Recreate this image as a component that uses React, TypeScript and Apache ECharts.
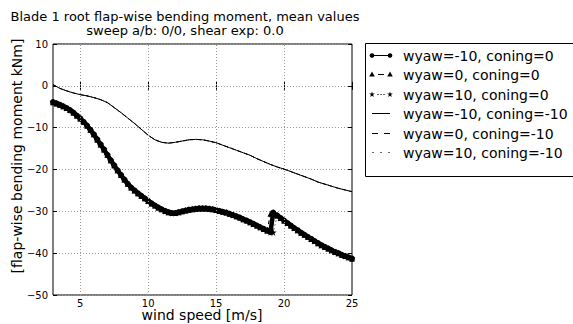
import React, { useEffect, useRef } from "react";
import * as echarts from "echarts";

// wind speed grid for the coning=0 runs [m/s]
const windConing0 = [
  3, 3.25, 3.5, 3.75, 4, 4.25, 4.5, 4.75, 5, 5.25, 5.5, 5.75, 6, 6.25, 6.5, 6.75,
  7, 7.25, 7.5, 7.75, 8, 8.25, 8.5, 8.75, 9, 9.25, 9.5, 9.75, 10, 10.25, 10.5, 10.75,
  11, 11.25, 11.5, 11.75, 12, 12.25, 12.5, 12.75, 13, 13.25, 13.5, 13.75, 14, 14.25, 14.5, 14.75,
  15, 15.25, 15.5, 15.75, 16, 16.25, 16.5, 16.75, 17, 17.25, 17.5, 17.75, 18, 18.25, 18.5, 18.75,
  19, 19.2, 19.5, 19.75, 20, 20.25, 20.5, 20.75, 21, 21.25, 21.5, 21.75, 22, 22.25, 22.5, 22.75,
  23, 23.25, 23.5, 23.75, 24, 24.25, 24.5, 24.75, 25,
];
// flap-wise moment, wyaw=-10, coning=0 [kNm]
const momentWyawM10Coning0 = [
  -3.9, -4.2, -4.5, -4.9, -5.3, -5.8, -6.4, -7.1, -7.8, -8.6, -9.5, -10.5, -11.6, -12.8, -14.0, -15.2,
  -16.5, -17.8, -19.0, -20.2, -21.3, -22.4, -23.4, -24.3, -25.0, -25.7, -26.3, -26.9, -27.5, -28.1, -28.6, -29.1,
  -29.5, -29.9, -30.2, -30.4, -30.4, -30.2, -30.0, -29.8, -29.6, -29.5, -29.4, -29.3, -29.3, -29.3, -29.4, -29.5,
  -29.7, -29.9, -30.1, -30.3, -30.6, -30.9, -31.2, -31.5, -31.9, -32.2, -32.6, -33.0, -33.4, -33.8, -34.2, -34.6,
  -35.0, -30.3, -31.0, -31.6, -32.2, -32.8, -33.4, -34.0, -34.5, -35.1, -35.6, -36.1, -36.6, -37.1, -37.6, -38.1,
  -38.5, -38.9, -39.3, -39.7, -40.0, -40.4, -40.7, -41.0, -41.3,
];
// wyaw=0 and wyaw=10 (coning=0) follow the same curve, except around the jump near 19 m/s
const jumpWyaw0Coning0: Record<number, number> = { 19: -30.6 };
const jumpWyaw10Coning0: Record<number, number> = { 19.2: -35.0 };

// wind speed grid for the coning=-10 runs [m/s]
const windConingM10 = [
  3, 3.5, 4, 4.5, 5, 5.5, 6, 6.5, 7, 7.5, 8, 8.5, 9, 9.5, 10, 10.5, 11, 11.5, 12, 12.5, 13, 13.5,
  14, 14.5, 15, 15.5, 16, 16.5, 17, 17.5, 18, 18.5, 19, 19.5, 20, 20.5, 21, 21.5, 22, 22.5, 23, 23.5,
  24, 24.5, 25,
];
const momentConingM10 = [
  0.3, -0.6, -1.2, -1.7, -2.1, -2.4, -2.8, -3.3, -4.0, -5.2, -6.4, -7.7, -9.0, -10.4, -11.8, -12.9,
  -13.5, -13.7, -13.5, -13.2, -12.9, -12.8, -12.9, -13.2, -13.6, -14.2, -14.8, -15.4, -16.0, -16.6,
  -17.4, -18.1, -18.8, -19.4, -19.9, -20.5, -21.1, -21.7, -22.3, -23.0, -23.5, -24.0, -24.5, -24.9, -25.3,
];

const seriesNames = [
  "wyaw=-10, coning=0",
  "wyaw=0, coning=0",
  "wyaw=10, coning=0",
  "wyaw=-10, coning=-10",
  "wyaw=0, coning=-10",
  "wyaw=10, coning=-10",
];
const titleLines = ["Blade 1 root flap-wise bending moment, mean values", "sweep a/b: 0/0, shear exp: 0.0"];
const xTicks = [5, 10, 15, 20, 25];
const xGridLines = [5, 10, 15, 20];

const FONT = "DejaVu Sans";
const STAR =
  "path://M50,0 L61,35 L98,35 L68,57 L79,91 L50,70 L21,91 L32,57 L2,35 L39,35 Z";

function pairs(xs: number[], ys: number[], over: Record<number, number> = {}) {
  return xs.map((x, i) => [x, over[x] !== undefined ? over[x] : ys[i]]);
}

function starPoints(cx: number, cy: number, r: number) {
  const pts: number[][] = [];
  for (let k = 0; k < 10; k++) {
    const a = -Math.PI / 2 + (k * Math.PI) / 5;
    const rr = k % 2 === 0 ? r : r * 0.4;
    pts.push([cx + rr * Math.cos(a), cy + rr * Math.sin(a)]);
  }
  return pts;
}

function seg(xa: number, xb: number, y: number) {
  return {
    type: "line",
    shape: { x1: xa, y1: y, x2: xb, y2: y },
    style: { stroke: "#000", lineWidth: 1 },
    z: 11,
  };
}

function dot(x: number, y: number) {
  return { type: "rect", shape: { x: x - 0.6, y: y - 0.6, width: 1.2, height: 1.2 }, style: { fill: "#000" }, z: 11 };
}

function legendGraphics() {
  const els: any[] = [];
  const black = "#000";
  els.push({
    type: "rect",
    shape: { x: 365.5, y: 43.5, width: 230, height: 133 },
    style: { fill: "#fff", stroke: black, lineWidth: 1 },
    z: 10,
  });
  const x0 = 372;
  const x1 = 390;
  seriesNames.forEach((name, i) => {
    const y = Math.round(55 + i * 19.4) + 0.5;
    if (i === 0) {
      els.push(seg(x0, x1, y));
      [x0, x1].forEach((mx) =>
        els.push({ type: "circle", shape: { cx: mx, cy: y, r: 2.3 }, style: { fill: black }, z: 12 })
      );
    } else if (i === 1) {
      els.push(seg(378, 384, y));
      [x0, x1].forEach((mx) =>
        els.push({
          type: "polygon",
          shape: { points: [[mx, y - 3], [mx - 2.8, y + 2], [mx + 2.8, y + 2]] },
          style: { fill: black },
          z: 12,
        })
      );
    } else if (i === 2) {
      els.push(dot(378, y));
      els.push(dot(381, y));
      els.push(dot(384, y));
      [x0, x1].forEach((mx) =>
        els.push({ type: "polygon", shape: { points: starPoints(mx, y, 3) }, style: { fill: black }, z: 12 })
      );
    } else if (i === 3) {
      els.push(seg(x0, x1, y));
    } else if (i === 4) {
      els.push(seg(372, 378, y));
      els.push(seg(384, 390, y));
    } else {
      els.push(dot(373, y));
      els.push(dot(381, y));
      els.push(dot(389, y));
    }
    els.push({
      type: "text",
      x: 403,
      y,
      style: {
        text: name,
        fontFamily: FONT,
        fontSize: 14,
        fill: black,
        textAlign: "left",
        textVerticalAlign: "middle",
      },
      z: 12,
    });
  });
  return els;
}

const minusFmt = (v: number) => (v < 0 ? "\u2212" + Math.abs(v) : String(v));

export default function App() {
  const ref = useRef<HTMLDivElement>(null);
  useEffect(() => {
    if (!ref.current) return;
    const chart = echarts.init(ref.current, undefined, { renderer: "svg" });
    const black = "#000";
    const option: any = {
      animation: false,
      backgroundColor: "#fff",
      textStyle: { fontFamily: FONT },
      grid: {
        left: 53,
        right: 221,
        top: 44,
        bottom: 29,
        show: true,
        borderColor: black,
        borderWidth: 1,
        backgroundColor: "transparent",
      },
      xAxis: [
        {
          type: "value",
          min: 3,
          max: 25,
          axisLine: { show: false },
          axisTick: { show: true, inside: true, length: 4, customValues: xTicks, lineStyle: { color: black } },
          axisLabel: { customValues: xTicks, color: black, fontSize: 10, fontFamily: FONT, margin: 3 },
          splitLine: { show: false },
        },
        {
          type: "value",
          position: "top",
          min: 3,
          max: 25,
          axisLine: { show: false },
          axisTick: { show: true, inside: true, length: 4, customValues: xTicks, lineStyle: { color: black } },
          axisLabel: { show: false },
          splitLine: { show: false },
        },
      ],
      yAxis: [
        {
          type: "value",
          min: -50,
          max: 10,
          interval: 10,
          axisLine: { show: false },
          axisTick: { show: true, inside: true, length: 4, lineStyle: { color: black } },
          axisLabel: { color: black, fontSize: 10, fontFamily: FONT, margin: 5, formatter: minusFmt },
          splitLine: { show: true, lineStyle: { color: "#999", type: [1, 2], width: 1 } },
        },
        {
          type: "value",
          position: "right",
          min: -50,
          max: 10,
          interval: 10,
          axisLine: { show: false },
          axisTick: { show: true, inside: true, length: 4, lineStyle: { color: black } },
          axisLabel: { show: false },
          splitLine: { show: false },
        },
      ],
      series: [
        {
          name: seriesNames[3],
          type: "line",
          data: pairs(windConingM10, momentConingM10),
          symbol: "none",
          lineStyle: { color: black, width: 1 },
          itemStyle: { color: black },
          z: 3,
          markLine: {
            silent: true,
            symbol: "none",
            label: { show: false },
            lineStyle: { color: "#999", type: [1, 2], width: 1 },
            data: xGridLines.map((v) => ({ xAxis: v })),
          },
        },
        {
          name: seriesNames[4],
          type: "line",
          data: pairs(windConingM10, momentConingM10),
          symbol: "none",
          lineStyle: { color: black, width: 1, type: [4, 3] },
          itemStyle: { color: black },
          z: 3,
        },
        {
          name: seriesNames[5],
          type: "line",
          data: pairs(windConingM10, momentConingM10),
          symbol: "none",
          lineStyle: { color: black, width: 1, type: [1, 3] },
          itemStyle: { color: black },
          z: 3,
        },
        {
          name: seriesNames[0],
          type: "line",
          data: pairs(windConing0, momentWyawM10Coning0),
          symbol: "circle",
          symbolSize: 6,
          lineStyle: { color: black, width: 4.5 },
          itemStyle: { color: black },
          z: 4,
        },
        {
          name: seriesNames[1],
          type: "line",
          data: pairs(windConing0, momentWyawM10Coning0, jumpWyaw0Coning0),
          symbol: "triangle",
          symbolSize: 6,
          lineStyle: { color: black, width: 1, type: [4, 3] },
          itemStyle: { color: black },
          z: 4,
        },
        {
          name: seriesNames[2],
          type: "line",
          data: pairs(windConing0, momentWyawM10Coning0, jumpWyaw10Coning0),
          symbol: STAR,
          symbolSize: 7,
          lineStyle: { color: black, width: 1, type: [1, 3] },
          itemStyle: { color: black },
          z: 4,
        },
      ],
      graphic: [
        {
          type: "text",
          x: 185,
          y: 16.5,
          style: {
            text: titleLines[0],
            fontFamily: FONT,
            fontSize: 13,
            fill: black,
            textAlign: "center",
            textVerticalAlign: "middle",
          },
        },
        {
          type: "text",
          x: 185,
          y: 30.5,
          style: {
            text: titleLines[1],
            fontFamily: FONT,
            fontSize: 13,
            fill: black,
            textAlign: "center",
            textVerticalAlign: "middle",
          },
        },
        {
          type: "text",
          x: 202,
          y: 315,
          style: {
            text: "wind speed [m/s]",
            fontFamily: FONT,
            fontSize: 14,
            fill: black,
            textAlign: "center",
            textVerticalAlign: "middle",
          },
        },
        {
          type: "text",
          x: 17,
          y: 156,
          rotation: Math.PI / 2,
          style: {
            text: "[flap-wise bending moment kNm]",
            fontFamily: FONT,
            fontSize: 14,
            fill: black,
            textAlign: "center",
            textVerticalAlign: "middle",
          },
        },
        ...legendGraphics(),
      ],
    };
    chart.setOption(option);
    return () => chart.dispose();
  }, []);
  return <div ref={ref} style={{ width: 573, height: 324, position: "absolute", left: 0, top: 0 }} />;
}
